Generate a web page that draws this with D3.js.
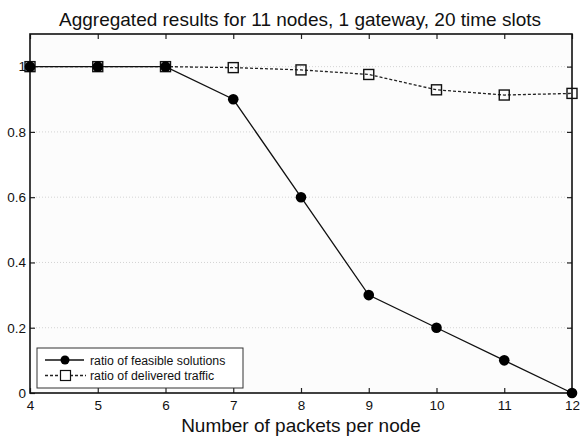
<!DOCTYPE html>
<html><head><meta charset="utf-8">
<script src="https://cdn.jsdelivr.net/npm/d3@7/dist/d3.min.js"></script>
<style>body{margin:0;background:#fff}svg{display:block}text{font-family:Arial,"Liberation Sans",sans-serif}</style>
</head><body>
<script>
const packets = [4,5,6,7,8,9,10,11,12];
const feasible = [1,1,1,0.9,0.6,0.3,0.2,0.1,0];
const delivered = [1,1,1,0.997,0.99,0.976,0.929,0.913,0.918];
const xTicks = [4,5,6,7,8,9,10,11,12];
const yTicks = [0,0.2,0.4,0.6,0.8,1];
const title = "Aggregated results for 11 nodes, 1 gateway, 20 time slots";
const xLabel = "Number of packets per node";
const legendLabels = ["ratio of feasible solutions","ratio of delivered traffic"];

const W=581,H=436;
const m={l:30,r:9,t:34,b:43};
const svg=d3.select("body").append("svg").attr("width",W).attr("height",H);
const x=d3.scaleLinear().domain([4,12]).range([m.l,W-m.r]);
const y=d3.scaleLinear().domain([0,1.1]).range([H-m.b,m.t]);
const pw=W-m.l-m.r, ph=H-m.t-m.b;

svg.append("rect").attr("x",m.l).attr("y",m.t).attr("width",pw).attr("height",ph).attr("fill","#fcfcfc");
// grid
svg.append("g").selectAll("line").data(yTicks.filter(d=>d>0)).join("line")
  .attr("x1",m.l).attr("x2",W-m.r).attr("y1",d=>y(d)).attr("y2",d=>y(d))
  .attr("stroke","#d4d4d4").attr("stroke-width",1).attr("stroke-dasharray","1,2");

// axes
const ax=svg.append("g").attr("transform",`translate(0,${H-m.b})`)
  .call(d3.axisBottom(x).tickValues(xTicks).tickFormat(d3.format("d")).tickSizeInner(-5).tickSizeOuter(0).tickPadding(7));
const ay=svg.append("g").attr("transform",`translate(${m.l},0)`)
  .call(d3.axisLeft(y).tickValues(yTicks).tickFormat(d=>d===0?"0":(d===1?"1":d3.format(".1f")(d))).tickSizeInner(-5).tickSizeOuter(0).tickPadding(4));
const axT=svg.append("g").attr("transform",`translate(0,${m.t})`)
  .call(d3.axisTop(x).tickValues(xTicks).tickFormat("").tickSizeInner(-5).tickSizeOuter(0));
const ayR=svg.append("g").attr("transform",`translate(${W-m.r},0)`)
  .call(d3.axisRight(y).tickValues(yTicks).tickFormat("").tickSizeInner(-5).tickSizeOuter(0));
[ax,ay,axT,ayR].forEach(g=>{g.select(".domain").remove();g.selectAll("line").attr("stroke","#222").attr("stroke-width",1.2);
  g.selectAll("text").attr("font-size",13.5).attr("fill","#111");});
svg.append("rect").attr("x",m.l).attr("y",m.t).attr("width",pw).attr("height",ph).attr("fill","none").attr("stroke","#111").attr("stroke-width",1.6);

// delivered
const line=d3.line().x((d,i)=>x(packets[i])).y(d=>y(d));
svg.append("path").datum(delivered).attr("d",line).attr("fill","none").attr("stroke","#222").attr("stroke-width",1.3).attr("stroke-dasharray","3,2");
svg.append("g").selectAll("rect").data(delivered).join("rect")
  .attr("x",(d,i)=>x(packets[i])-5).attr("y",d=>y(d)-5).attr("width",10).attr("height",10)
  .attr("fill","none").attr("stroke","#111").attr("stroke-width",1.4);
// feasible
svg.append("path").datum(feasible).attr("d",line).attr("fill","none").attr("stroke","#111").attr("stroke-width",1.3);
svg.append("g").selectAll("circle").data(feasible).join("circle")
  .attr("cx",(d,i)=>x(packets[i])).attr("cy",d=>y(d)).attr("r",5.3).attr("fill","#000");

// legend
const lg=svg.append("g");
lg.append("rect").attr("x",37).attr("y",348).attr("width",206).attr("height",40).attr("fill","#fff").attr("stroke","#333").attr("stroke-width",1);
lg.append("line").attr("x1",45).attr("x2",84).attr("y1",360).attr("y2",360).attr("stroke","#111").attr("stroke-width",1.3);
lg.append("circle").attr("cx",65).attr("cy",360).attr("r",4.5).attr("fill","#000");
lg.append("line").attr("x1",45).attr("x2",86).attr("y1",375.5).attr("y2",375.5).attr("stroke","#222").attr("stroke-width",1.3).attr("stroke-dasharray","3,2");
lg.append("rect").attr("x",60.5).attr("y",370.5).attr("width",10).attr("height",10).attr("fill","#fff").attr("stroke","#111").attr("stroke-width",1.2);
lg.selectAll("text.l").data(legendLabels).join("text").attr("class","l")
  .attr("x",90).attr("y",(d,i)=>364.5+i*15.5).attr("font-size",12.3).attr("fill","#111").text(d=>d);

svg.append("text").attr("x",300).attr("y",26).attr("text-anchor","middle").attr("font-size",19).attr("fill","#111").text(title);
svg.append("text").attr("x",(m.l+W-m.r)/2).attr("y",432).attr("text-anchor","middle").attr("font-size",19).attr("fill","#111").text(xLabel);
</script>
</body></html>
